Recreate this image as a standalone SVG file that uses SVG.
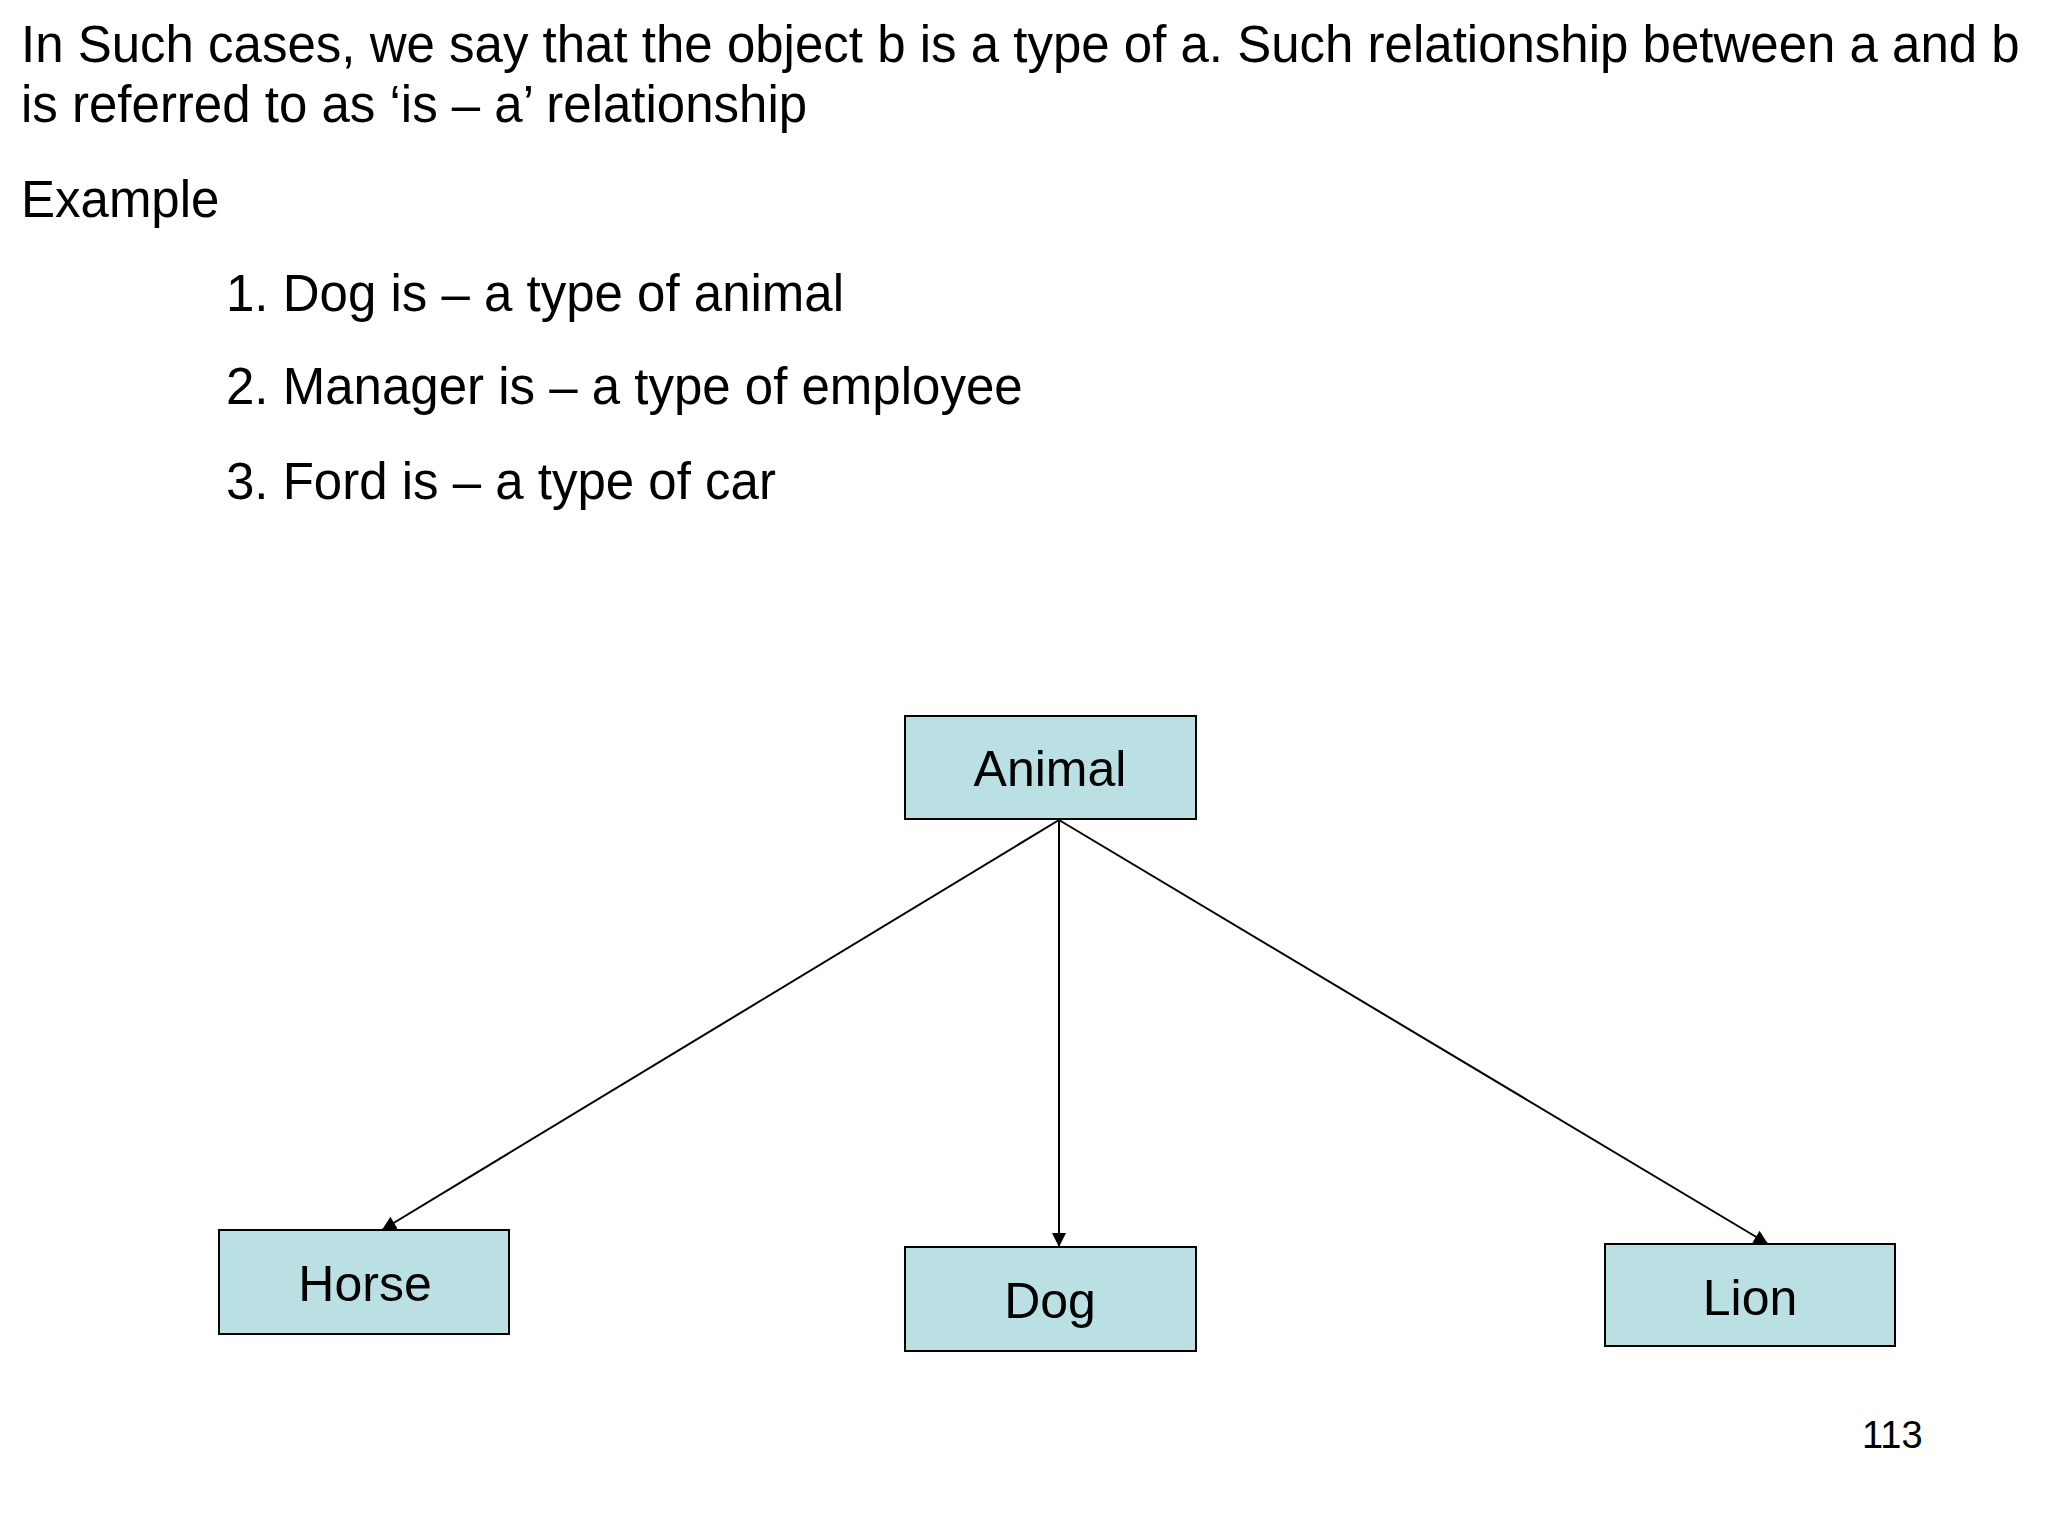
<svg xmlns="http://www.w3.org/2000/svg" width="2048" height="1536" viewBox="0 0 2048 1536">
<defs>
<style>
text{font-family:"Liberation Sans",Arial,sans-serif;fill:#000}
.t{font-size:51px}
.n{font-size:50px;text-anchor:middle}
.box{fill:#bbe0e3;stroke:#000;stroke-width:2}
.c{stroke:#000;stroke-width:2;fill:none;marker-end:url(#a)}
</style>
<marker id="a" viewBox="0 0 10 10" refX="10" refY="5" markerWidth="16" markerHeight="14" markerUnits="userSpaceOnUse" orient="auto"><path d="M0,0L10,5L0,10z" fill="#000"/></marker>
</defs>
<rect width="2048" height="1536" fill="#fff"/>
<text class="t" x="21" y="62">In Such cases, we say that the object b is a type of a. Such relationship between a and b</text>
<text class="t" x="21" y="122">is referred to as ‘is – a’ relationship</text>
<text class="t" x="21" y="217">Example</text>
<text class="t" x="226" y="311">1. Dog is – a type of animal</text>
<text class="t" x="226" y="404">2. Manager is – a type of employee</text>
<text class="t" x="226" y="499">3. Ford is – a type of car</text>
<g id="connectors">
<line class="c" x1="1059" y1="820" x2="382" y2="1230"/>
<line class="c" x1="1059" y1="820" x2="1059" y2="1247"/>
<line class="c" x1="1059" y1="820" x2="1768" y2="1244"/>
</g>
<g id="animal"><rect class="box" x="905" y="716" width="291" height="103"/><text class="n" x="1050" y="786">Animal</text></g>
<g id="horse"><rect class="box" x="219" y="1230" width="290" height="104"/><text class="n" x="365" y="1301">Horse</text></g>
<g id="dog"><rect class="box" x="905" y="1247" width="291" height="104"/><text class="n" x="1050" y="1318">Dog</text></g>
<g id="lion"><rect class="box" x="1605" y="1244" width="290" height="102"/><text class="n" x="1750" y="1315">Lion</text></g>
<text x="1862" y="1448" style="font-size:38px">113</text>
</svg>
